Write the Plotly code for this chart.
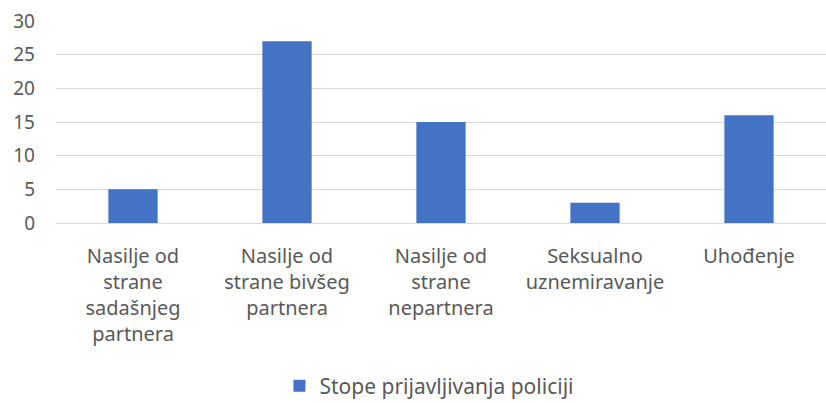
import plotly.graph_objects as go

categories = [
    "Nasilje od<br>strane<br>sadašnjeg<br>partnera",
    "Nasilje od<br>strane bivšeg<br>partnera",
    "Nasilje od<br>strane<br>nepartnera",
    "Seksualno<br>uznemiravanje",
    "Uhođenje",
]
values = [5, 27, 15, 3, 16]
series_name = "Stope prijavljivanja policiji"
y_ticks = [0, 5, 10, 15, 20, 25, 30]

fig = go.Figure()
fig.add_trace(go.Bar(
    x=categories, y=values, name=series_name,
    marker=dict(color="#4472C4", line=dict(width=0)),
    showlegend=True,
))

fig.update_layout(
    width=826, height=403,
    margin=dict(l=56, r=0, t=21, b=180, autoexpand=False),
    paper_bgcolor="white", plot_bgcolor="white",
    font=dict(family="Noto Sans", size=18, color="#595959"),
    bargap=0.68,
    showlegend=True,
    legend=dict(orientation="h", x=0.485, xanchor="center", y=-0.807, yanchor="middle",
                font=dict(size=21, color="#595959"), itemwidth=30),
)
fig.update_xaxes(
    automargin=False,
    showgrid=False, showline=True, linecolor="#D9D9D9", linewidth=1,
    ticks="", tickfont=dict(size=20, color="#595959"), ticklabelstandoff=15,
)
fig.update_yaxes(
    automargin=False,
    range=[0, 30], tickvals=y_ticks, showgrid=True, gridcolor="#D9D9D9",
    gridwidth=1, zeroline=False, showline=False, ticks="",
    tickfont=dict(size=19, color="#595959"), ticklabelstandoff=20,
)

fig.write_html(
    "out.html",
    config={"displayModeBar": False},
    post_script="document.body.style.margin='0';document.body.style.overflow='hidden';",
)
